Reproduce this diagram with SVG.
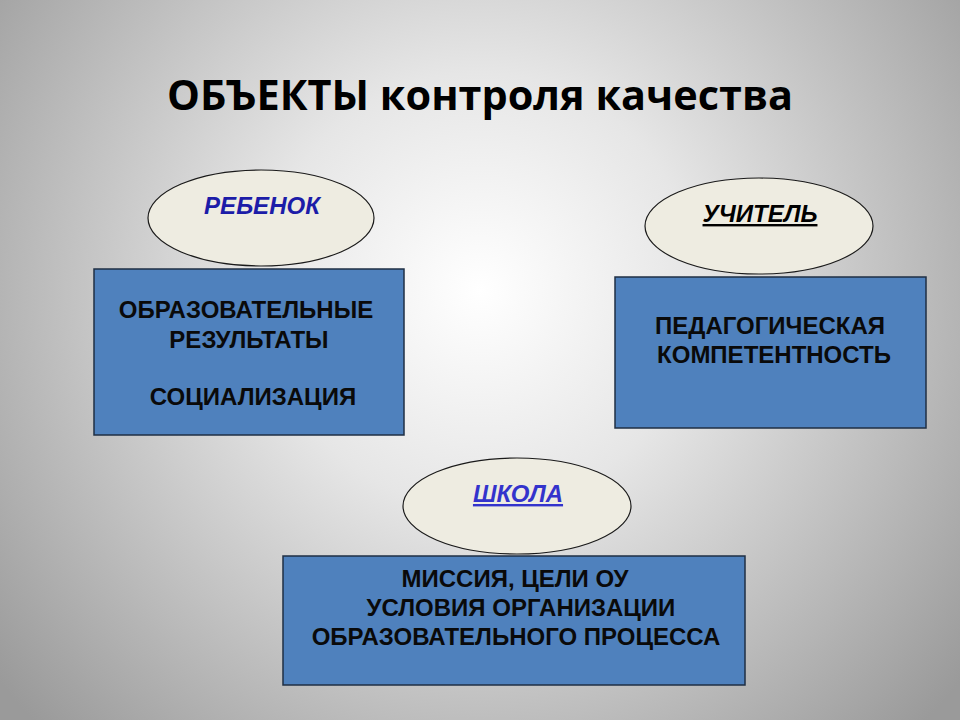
<svg xmlns="http://www.w3.org/2000/svg" width="960" height="720" viewBox="0 0 960 720">
<defs>
<radialGradient id="bg" cx="480" cy="290" r="620" gradientUnits="userSpaceOnUse">
<stop offset="0" stop-color="#ffffff"/>
<stop offset="0.35" stop-color="#e6e6e6"/>
<stop offset="1" stop-color="#9a9a9a"/>
</radialGradient>
</defs>
<style>
.ell{fill:#eeece1;stroke:#1a1a1a;stroke-width:1.2}
.box{fill:#4f81bd;stroke:#1f2f44;stroke-width:1.5}
.lbl{font-family:"Liberation Sans",Arial,sans-serif;font-weight:bold;font-style:italic;font-size:24px;text-anchor:middle}
.txt{font-family:"Liberation Sans",Arial,sans-serif;font-weight:bold;font-size:24px;text-anchor:middle;fill:#0a0a0a}
.title{font-family:"Open Sans","Noto Sans",sans-serif;font-weight:bold;font-size:42px;text-anchor:middle;fill:#000}
</style>
<rect x="0" y="0" width="960" height="720" fill="url(#bg)"/>
<text class="title" x="480" y="110" textLength="626" lengthAdjust="spacingAndGlyphs">ОБЪЕКТЫ контроля качества</text>
<g id="node-child">
<ellipse class="ell" cx="261" cy="218" rx="113" ry="48"/>
<text class="lbl" x="262" y="214" fill="#1c1ca8">РЕБЕНОК</text>
</g>
<g id="node-child-box">
<rect class="box" x="94" y="269" width="310" height="166"/>
<text class="txt" x="246" y="318">ОБРАЗОВАТЕЛЬНЫЕ</text>
<text class="txt" x="249" y="348">РЕЗУЛЬТАТЫ</text>
<text class="txt" x="253" y="405">СОЦИАЛИЗАЦИЯ</text>
</g>
<g id="node-teacher">
<ellipse class="ell" cx="759" cy="226" rx="114" ry="48"/>
<text class="lbl" x="760" y="222" fill="#000" text-decoration="underline">УЧИТЕЛЬ</text>
</g>
<g id="node-teacher-box">
<rect class="box" x="615" y="277" width="311" height="151"/>
<text class="txt" x="770" y="334">ПЕДАГОГИЧЕСКАЯ</text>
<text class="txt" x="774" y="363">КОМПЕТЕНТНОСТЬ</text>
</g>
<g id="node-school">
<ellipse class="ell" cx="517" cy="506" rx="114" ry="48"/>
<text class="lbl" x="518" y="502" fill="#3333cc" text-decoration="underline">ШКОЛА</text>
</g>
<g id="node-school-box">
<rect class="box" x="283" y="556" width="462" height="129"/>
<text class="txt" x="515" y="587">МИССИЯ, ЦЕЛИ ОУ</text>
<text class="txt" x="521" y="616">УСЛОВИЯ ОРГАНИЗАЦИИ</text>
<text class="txt" x="516" y="645">ОБРАЗОВАТЕЛЬНОГО ПРОЦЕССА</text>
</g>
<g id="connectors"/>
</svg>
